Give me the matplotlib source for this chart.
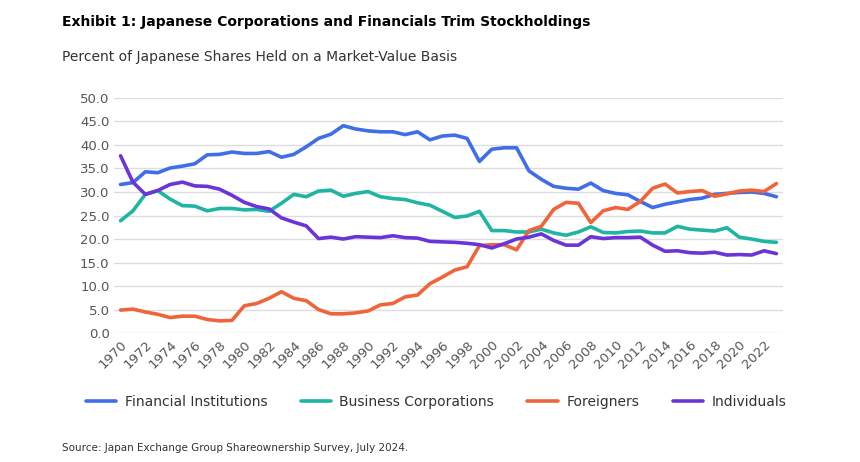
import matplotlib.pyplot as plt
import numpy as np

years = list(range(1970, 2024))
financial = [31.6, 32, 34.3, 34.1, 35.1, 35.5, 36, 37.9, 38, 38.5,
             38.2, 38.2, 38.6, 37.4, 38, 39.6, 41.4, 42.3, 44.1, 43.4,
             43, 42.8, 42.8, 42.2, 42.8, 41.1, 41.9, 42.1, 41.4, 36.5,
             39.1, 39.4, 39.4, 34.5, 32.7, 31.2, 30.8, 30.6, 31.9, 30.3,
             29.7, 29.4, 28.0, 26.7, 27.4, 27.9, 28.4, 28.7, 29.5, 29.7,
             29.9, 30.0, 29.7, 29.0]
business = [23.9, 26, 29.5, 30.3, 28.5, 27.1, 27, 26, 26.5, 26.5,
            26.2, 26.3, 25.9, 27.6, 29.5, 29, 30.2, 30.4, 29.1, 29.7,
            30.1, 29, 28.6, 28.4, 27.7, 27.2, 25.9, 24.6, 24.9, 25.9,
            21.8, 21.8, 21.5, 21.5, 22.1, 21.3, 20.8, 21.5, 22.6, 21.4,
            21.3, 21.6, 21.7, 21.3, 21.3, 22.7, 22.1, 21.9, 21.7, 22.4,
            20.4, 20.0, 19.5, 19.3]
foreigners = [4.9, 5.1, 4.5, 4.0, 3.3, 3.6, 3.6, 2.9, 2.6, 2.7,
              5.8, 6.3, 7.4, 8.8, 7.4, 6.9, 5.0, 4.1, 4.1, 4.3,
              4.7, 6.0, 6.3, 7.7, 8.1, 10.5, 11.9, 13.4, 14.1, 18.6,
              18.8, 18.8, 17.7, 21.8, 22.7, 26.3, 27.8, 27.6, 23.5, 26.0,
              26.7, 26.3, 28.0, 30.8, 31.7, 29.8, 30.1, 30.3, 29.1, 29.6,
              30.2, 30.4, 30.1, 31.8]
individuals = [37.7, 32.1, 29.5, 30.3, 31.6, 32.1, 31.3, 31.2, 30.6, 29.3,
               27.8, 26.9, 26.4, 24.5, 23.6, 22.8, 20.1, 20.4, 20.0, 20.5,
               20.4, 20.3, 20.7, 20.3, 20.2, 19.5, 19.4, 19.3, 19.1, 18.8,
               18.1, 19.0, 20.0, 20.4, 21.1, 19.7, 18.7, 18.7, 20.5, 20.1,
               20.3, 20.3, 20.4, 18.7, 17.4, 17.5, 17.1, 17.0, 17.2, 16.6,
               16.7, 16.6, 17.5, 16.9]

series = [("Financial Institutions", financial, "#3f6ee8"),
          ("Business Corporations", business, "#1fb5a3"),
          ("Foreigners", foreigners, "#f0643a"),
          ("Individuals", individuals, "#6a35d8")]

fig = plt.figure(figsize=(8.6, 4.62), dpi=100)
ax = fig.add_axes([0.133, 0.279, 0.777, 0.509])
for name, vals, col in series:
    ax.plot(years, vals, color=col, lw=2.6, label=name, solid_capstyle="round")

ax.set_ylim(0, 50)
ax.set_yticks(np.arange(0, 50.1, 5))
ax.set_yticklabels([f"{v:.1f}" for v in np.arange(0, 50.1, 5)])
ax.set_xlim(1969.5, 2023.5)
ax.set_xticks(years[::2])
ax.set_xticklabels([str(y) for y in years[::2]], rotation=45, ha="right", rotation_mode="anchor")
ax.tick_params(length=0, labelsize=9.5, colors="#555555")
ax.grid(axis="y", color="#dddddd", lw=1)
for s in ax.spines.values():
    s.set_visible(False)

fig.legend(loc="center", bbox_to_anchor=(0.507, 0.13), ncol=4, frameon=False,
           fontsize=10, handlelength=2.2, handletextpad=0.6, columnspacing=2.4,
           labelcolor="#333333")
fig.text(0.072, 0.952, "Exhibit 1: Japanese Corporations and Financials Trim Stockholdings",
         fontsize=10, fontweight="bold", va="center")
fig.text(0.072, 0.877, "Percent of Japanese Shares Held on a Market-Value Basis",
         fontsize=10, va="center", color="#333333")
fig.text(0.072, 0.03, "Source: Japan Exchange Group Shareownership Survey, July 2024.",
         fontsize=7.5, va="center", color="#333333")
fig.savefig("out.png")
